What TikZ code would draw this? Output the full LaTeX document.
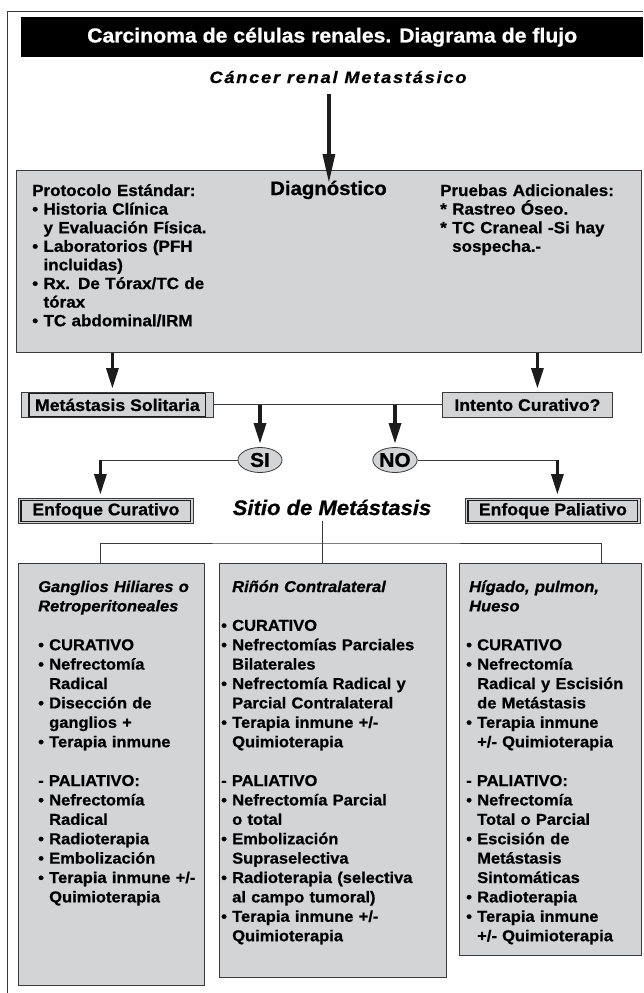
\documentclass[tikz,border=0pt]{standalone}
\usepackage{fontspec}
\setmainfont{Liberation Sans}[FakeStretch=1.05,FakeBold=0.8]
\newfontfamily\spacedfont{Liberation Sans}[FakeStretch=1.1,FakeBold=0.8,LetterSpace=11]
\usetikzlibrary{arrows.meta,calc,shapes.geometric}
\definecolor{boxgray}{HTML}{D3D4D6}
\definecolor{edge}{HTML}{3A3A3A}
\definecolor{ink}{HTML}{1C1C1C}
\newcommand{\hind}{\phantom{• }}
\begin{document}
\begin{tikzpicture}[x=1pt,y=-1pt,
  box/.style={draw=edge, line width=0.8pt, fill=boxgray, inner sep=0pt},
  labelbox/.style={box, minimum height=25pt, font=\fontsize{16.8}{18}\selectfont\bfseries},
  innerframe/.style={draw=ink, line width=1.1pt},
  txtblock/.style={inner sep=0pt, anchor=base west, align=left, text width=230pt},
  diagtxt/.style={txtblock, font=\fontsize{16.2}{18.6}\selectfont\bfseries},
  coltxt/.style={txtblock, font=\fontsize{15.7}{19.4}\selectfont\bfseries},
  link/.style={draw=edge, line width=0.9pt},
  flow/.style={draw=ink, line width=3.5pt, -{Triangle[length=20pt,width=13pt,line width=0pt]}, shorten >=4pt},
  bubble/.style={ellipse, draw=edge, fill=boxgray, line width=0.8pt, minimum width=44pt, minimum height=25pt, inner sep=0pt, font=\fontsize{19.9}{20}\selectfont\bfseries},
]
\useasboundingbox (0,0) rectangle (643,993);
% outer frame
\draw[link] (7,993) -- (7,11) -- (643,11);
% title
\node[fill=black, text=white, minimum width=622pt, minimum height=40pt, anchor=north west, inner sep=0pt,
      font=\fontsize{20.2}{22}\selectfont\bfseries] (title) at (21,17) {Carcinoma de células renales. Diagrama de flujo};
\node[inner sep=0pt, anchor=base, font=\spacedfont\fontsize{16.5}{18}\selectfont\bfseries\itshape] (cancer) at (338,83) {Cáncer renal Metastásico};
% diagnostic box
\node[box, minimum width=625pt, minimum height=182pt, anchor=north west] (diag) at (16,170) {};
\node[inner sep=0pt, anchor=base west, font=\fontsize{19.4}{20}\selectfont\bfseries] (diagt) at (270,195) {Diagnóstico};
\node[diagtxt] (proto) at (32,196) {Protocolo Estándar:\\• Historia Clínica\\\hind y Evaluación Física.\\• Laboratorios (PFH\\\hind incluidas)\\• Rx. De Tórax/TC de\\\hind tórax\\• TC abdominal/IRM};
\node[diagtxt] (pruebas) at (440,196) {Pruebas Adicionales:\\{*} Rastreo Óseo.\\{*} TC Craneal -Si hay\\\phantom{* }sospecha.-};
\draw[flow, -{Triangle[length=28pt,width=13pt,line width=0pt]}, shorten >=-12pt] ($(cancer.south -| diag.north)+(0,11)$) -- (diag.north);
% second level
\node[labelbox, minimum width=192pt, anchor=north west] (meta) at (21,392) {Metástasis Solitaria};
\draw[innerframe] ($(meta.north west)+(8,1.5)$) rectangle ($(meta.south east)+(-8,-1.5)$);
\node[labelbox, minimum width=170pt, anchor=north west] (intento) at (442,392) {Intento Curativo?};
\draw[flow] ([xshift=-5pt]meta.north |- diag.south) -- ([xshift=-5pt]meta.north);
\draw[flow] ([xshift=10pt]intento.north |- diag.south) -- ([xshift=10pt]intento.north);
\draw[link] (meta.east) -- (intento.west);
% SI / NO
\node[bubble] (si) at (260,460) {SI};
\node[bubble] (no) at (395,460) {NO};
\draw[flow] (si.north |- meta.east) -- (si.north);
\draw[flow] (no.north |- meta.east) -- (no.north);
% approaches
\node[labelbox, minimum width=175pt, anchor=north west] (cur) at (18,498) {Enfoque Curativo};
\draw[innerframe] ($(cur.north west)+(3,2.5)$) rectangle ($(cur.south east)+(-3,-2.5)$);
\node[labelbox, minimum width=175pt, anchor=north west] (pal) at (465,498) {Enfoque Paliativo};
\draw[innerframe] ($(pal.north west)+(3,2.5)$) rectangle ($(pal.south east)+(-3,-2.5)$);
\draw[link] (si.west) -- ([xshift=-5.5pt]cur.north |- si.west);
\draw[flow] ([xshift=-5.5pt]cur.north |- si.west) -- ([xshift=-5.5pt]cur.north);
\draw[link] (no.east) -- ([xshift=4.5pt]pal.north |- no.east);
\draw[flow] ([xshift=4.5pt]pal.north |- no.east) -- ([xshift=4.5pt]pal.north);
\node[inner sep=0pt, anchor=base, font=\fontsize{21}{22}\selectfont\bfseries\itshape] (sitio) at (332,515) {Sitio de Metástasis};
% site boxes
\node[box, minimum width=186pt, minimum height=422pt, anchor=north west] (b1) at (18,563) {};
\node[box, minimum width=227pt, minimum height=414pt, anchor=north west] (b2) at (219,563) {};
\node[box, minimum width=182pt, minimum height=392pt, anchor=north west] (b3) at (459,563) {};
\coordinate (bus) at ($([xshift=-10pt]sitio.south |- b2.north)+(0,-20)$);
\draw[link] ([xshift=-10pt,yshift=-6pt]sitio.south) -- ([xshift=-10pt]sitio.south |- b2.north);
\draw[link] ([xshift=-11pt]b1.north) |- (bus) -| ([xshift=51pt]b3.north);
\node[coltxt] (t1) at (38,592) {\textit{Ganglios Hiliares o}\\\textit{Retroperitoneales}\\~\\• CURATIVO\\• Nefrectomía\\\hind Radical\\• Disección de\\\hind ganglios +\\• Terapia inmune\\~\\- PALIATIVO:\\• Nefrectomía\\\hind Radical\\• Radioterapia\\• Embolización\\• Terapia inmune +/-\\\hind Quimioterapia};
\node[coltxt] (t2) at (221,592) {\hind\textit{Riñón Contralateral}\\~\\• CURATIVO\\• Nefrectomías Parciales\\\hind Bilaterales\\• Nefrectomía Radical y\\\hind Parcial Contralateral\\• Terapia inmune +/-\\\hind Quimioterapia\\~\\- PALIATIVO\\• Nefrectomía Parcial\\\hind o total\\• Embolización\\\hind Supraselectiva\\• Radioterapia (selectiva\\\hind al campo tumoral)\\• Terapia inmune +/-\\\hind Quimioterapia};
\node[coltxt] (t3) at (466,592) {\hspace*{3pt}\textit{Hígado, pulmon,}\\\hspace*{3pt}\textit{Hueso}\\~\\• CURATIVO\\• Nefrectomía\\\hind Radical y Escisión\\\hind de Metástasis\\• Terapia inmune\\\hind +/- Quimioterapia\\~\\- PALIATIVO:\\• Nefrectomía\\\hind Total o Parcial\\• Escisión de\\\hind Metástasis\\\hind Sintomáticas\\• Radioterapia\\• Terapia inmune\\\hind +/- Quimioterapia};
\end{tikzpicture}
\end{document}
